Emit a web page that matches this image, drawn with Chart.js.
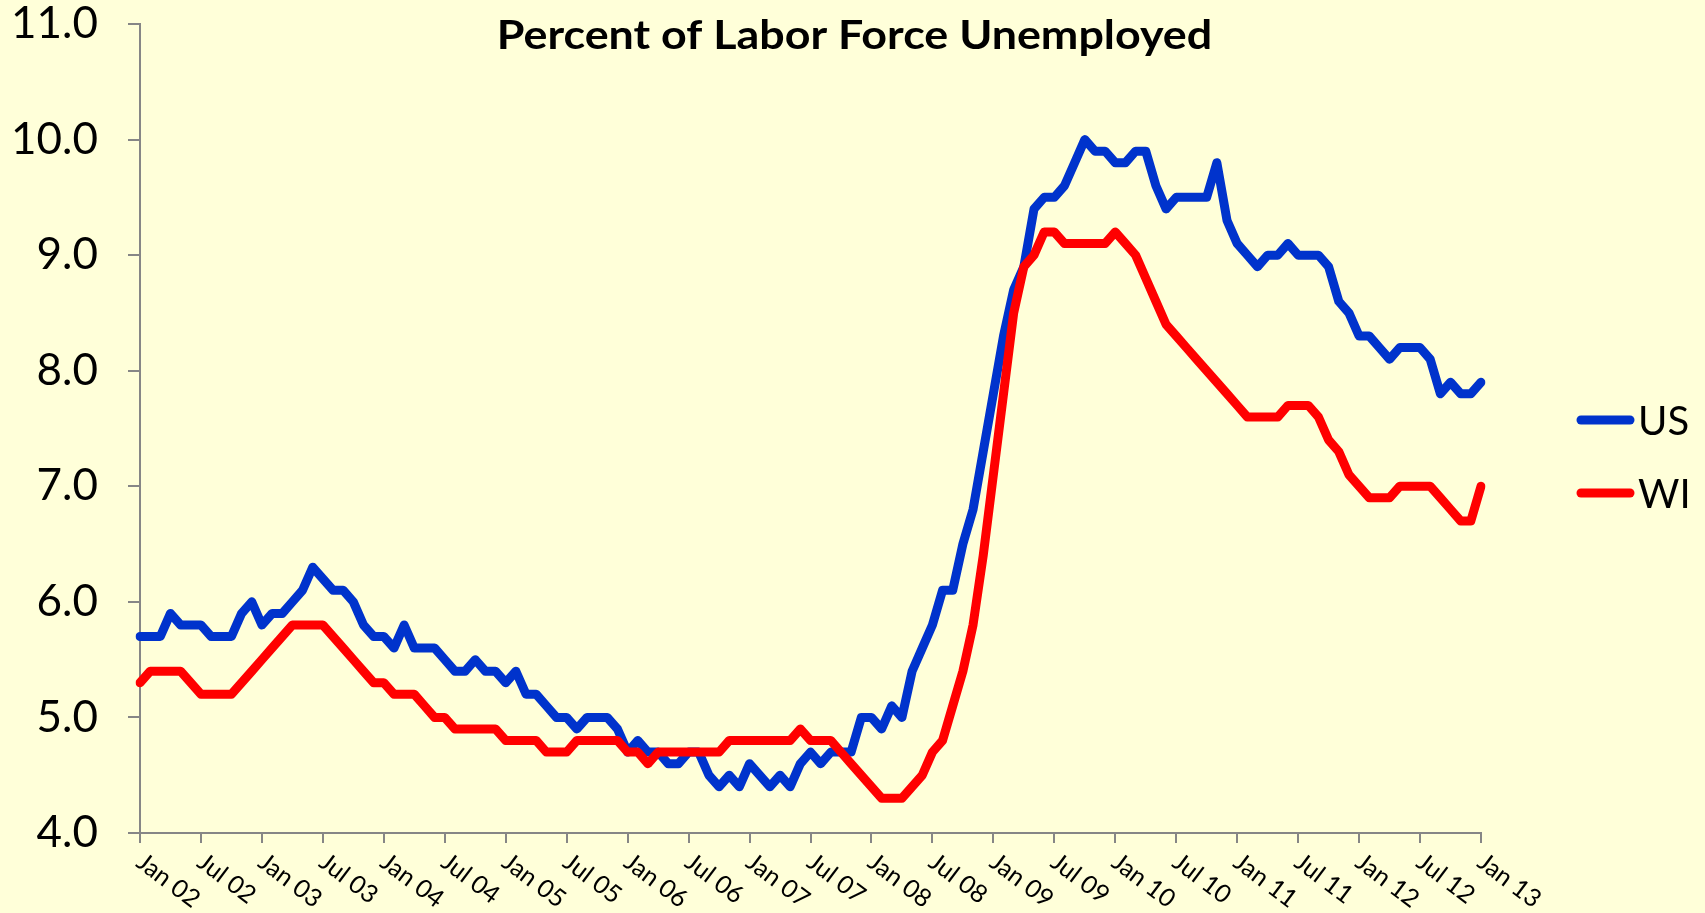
<!DOCTYPE html>
<html>
<head>
<meta charset="utf-8">
<title>Percent of Labor Force Unemployed</title>
<script src="https://cdn.jsdelivr.net/npm/chart.js@4.4.1/dist/chart.umd.min.js"></script>
<style>
    html, body { margin: 0; padding: 0; background: #FFFFD9; }
    #wrap { width: 1705px; height: 913px; }
</style>
</head>
<body>
<div id="wrap"><canvas id="myChart" width="1705" height="913"></canvas></div>
<script>
// monthly data, Jan 2002 .. Jan 2013 (seasonally adjusted unemployment rate)
var years = ["02", "03", "04", "05", "06", "07", "08", "09", "10", "11", "12", "13"];
var monthNames = ["Jan", "Feb", "Mar", "Apr", "May", "Jun", "Jul", "Aug", "Sep", "Oct", "Nov", "Dec"];

// labels actually shown under the x axis, one every 6 months
var tickLabels = ["Jan 02", "Jul 02", "Jan 03", "Jul 03", "Jan 04", "Jul 04", "Jan 05", "Jul 05",
    "Jan 06", "Jul 06", "Jan 07", "Jul 07", "Jan 08", "Jul 08", "Jan 09", "Jul 09",
    "Jan 10", "Jul 10", "Jan 11", "Jul 11", "Jan 12", "Jul 12", "Jan 13"];

var usRate = [
    5.7, 5.7, 5.7, 5.9, 5.8, 5.8, 5.8, 5.7, 5.7, 5.7, 5.9, 6.0,   // 2002
    5.8, 5.9, 5.9, 6.0, 6.1, 6.3, 6.2, 6.1, 6.1, 6.0, 5.8, 5.7,   // 2003
    5.7, 5.6, 5.8, 5.6, 5.6, 5.6, 5.5, 5.4, 5.4, 5.5, 5.4, 5.4,   // 2004
    5.3, 5.4, 5.2, 5.2, 5.1, 5.0, 5.0, 4.9, 5.0, 5.0, 5.0, 4.9,   // 2005
    4.7, 4.8, 4.7, 4.7, 4.6, 4.6, 4.7, 4.7, 4.5, 4.4, 4.5, 4.4,   // 2006
    4.6, 4.5, 4.4, 4.5, 4.4, 4.6, 4.7, 4.6, 4.7, 4.7, 4.7, 5.0,   // 2007
    5.0, 4.9, 5.1, 5.0, 5.4, 5.6, 5.8, 6.1, 6.1, 6.5, 6.8, 7.3,   // 2008
    7.8, 8.3, 8.7, 8.9, 9.4, 9.5, 9.5, 9.6, 9.8, 10.0, 9.9, 9.9,  // 2009
    9.8, 9.8, 9.9, 9.9, 9.6, 9.4, 9.5, 9.5, 9.5, 9.5, 9.8, 9.3,   // 2010
    9.1, 9.0, 8.9, 9.0, 9.0, 9.1, 9.0, 9.0, 9.0, 8.9, 8.6, 8.5,   // 2011
    8.3, 8.3, 8.2, 8.1, 8.2, 8.2, 8.2, 8.1, 7.8, 7.9, 7.8, 7.8,   // 2012
    7.9                                                           // 2013
];

var wiRate = [
    5.3, 5.4, 5.4, 5.4, 5.4, 5.3, 5.2, 5.2, 5.2, 5.2, 5.3, 5.4,   // 2002
    5.5, 5.6, 5.7, 5.8, 5.8, 5.8, 5.8, 5.7, 5.6, 5.5, 5.4, 5.3,   // 2003
    5.3, 5.2, 5.2, 5.2, 5.1, 5.0, 5.0, 4.9, 4.9, 4.9, 4.9, 4.9,   // 2004
    4.8, 4.8, 4.8, 4.8, 4.7, 4.7, 4.7, 4.8, 4.8, 4.8, 4.8, 4.8,   // 2005
    4.7, 4.7, 4.6, 4.7, 4.7, 4.7, 4.7, 4.7, 4.7, 4.7, 4.8, 4.8,   // 2006
    4.8, 4.8, 4.8, 4.8, 4.8, 4.9, 4.8, 4.8, 4.8, 4.7, 4.6, 4.5,   // 2007
    4.4, 4.3, 4.3, 4.3, 4.4, 4.5, 4.7, 4.8, 5.1, 5.4, 5.8, 6.4,   // 2008
    7.1, 7.8, 8.5, 8.9, 9.0, 9.2, 9.2, 9.1, 9.1, 9.1, 9.1, 9.1,   // 2009
    9.2, 9.1, 9.0, 8.8, 8.6, 8.4, 8.3, 8.2, 8.1, 8.0, 7.9, 7.8,   // 2010
    7.7, 7.6, 7.6, 7.6, 7.6, 7.7, 7.7, 7.7, 7.6, 7.4, 7.3, 7.1,   // 2011
    7.0, 6.9, 6.9, 6.9, 7.0, 7.0, 7.0, 7.0, 6.9, 6.8, 6.7, 6.7,   // 2012
    7.0                                                           // 2013
];

var seriesNames = ["US", "WI"];
var seriesColors = ["#0033CC", "#FF0000"];
var chartTitle = "Percent of Labor Force Unemployed";

// category per month: "Jan 02", "Feb 02", ...
var categories = [];
for (var i = 0; i < usRate.length; i++) {
    categories.push(monthNames[i % 12] + " " + years[Math.floor(i / 12)]);
}

var bgColor = "#FFFFD9";
var axisColor = "#868686";
var fontFamily = "Lato, 'Open Sans', sans-serif";

// background, title inside the plot, slanted x labels, legend
var decorations = {
    id: "decorations",
    beforeDraw: function(chart) {
        var ctx = chart.ctx;
        ctx.save();
        ctx.fillStyle = bgColor;
        ctx.fillRect(0, 0, chart.width, chart.height);
        ctx.restore();
    },
    afterDraw: function(chart) {
        var ctx = chart.ctx;
        var xs = chart.scales.x;
        var area = chart.chartArea;

        // title - the original font is a bit wider, so stretch it slightly
        ctx.save();
        ctx.fillStyle = "#000000";
        ctx.font = "bold 40px " + fontFamily;
        ctx.textAlign = "center";
        ctx.textBaseline = "middle";
        ctx.translate(chart.width / 2 + 2, 36);
        ctx.scale(1.12, 1);
        ctx.fillText(chartTitle, 0, 0);
        ctx.restore();

        // x labels, slanted down to the right like the original
        ctx.save();
        ctx.fillStyle = "#000000";
        ctx.font = "25px " + fontFamily;
        ctx.textAlign = "left";
        ctx.textBaseline = "top";
        for (var k = 0; k < tickLabels.length; k++) {
            var px = xs.getPixelForValue(k * 6);
            ctx.save();
            ctx.translate(px + 7, area.bottom + 16);
            ctx.rotate(37 * Math.PI / 180);
            ctx.fillText(tickLabels[k], 0, 0);
            ctx.restore();
        }
        ctx.restore();

        // legend on the right
        ctx.save();
        ctx.font = "40px " + fontFamily;
        ctx.textAlign = "left";
        ctx.textBaseline = "middle";
        ctx.lineCap = "round";
        ctx.lineWidth = 9;
        var rows = [area.top + 396, area.top + 469];
        for (var s = 0; s < seriesNames.length; s++) {
            var ly = rows[s];
            ctx.strokeStyle = seriesColors[s];
            ctx.beginPath();
            ctx.moveTo(area.right + 100, ly);
            ctx.lineTo(area.right + 149, ly);
            ctx.stroke();
            ctx.fillStyle = "#000000";
            ctx.fillText(seriesNames[s], area.right + 157, ly + 2);
        }
        ctx.restore();
    }
};

var ctx = document.getElementById("myChart");
Chart.defaults.font.family = fontFamily;
Chart.defaults.color = "#000000";

var myChart = new Chart(ctx, {
    type: "line",
    data: {
        labels: categories,
        datasets: [
            {
                label: seriesNames[0],
                data: usRate,
                borderColor: seriesColors[0],
                backgroundColor: seriesColors[0],
                borderWidth: 9,
                borderCapStyle: "round",
                borderJoinStyle: "round",
                pointRadius: 0,
                tension: 0,
                order: 1
            },
            {
                label: seriesNames[1],
                data: wiRate,
                borderColor: seriesColors[1],
                backgroundColor: seriesColors[1],
                borderWidth: 9,
                borderCapStyle: "round",
                borderJoinStyle: "round",
                pointRadius: 0,
                tension: 0,
                order: 0   // red drawn over blue
            }
        ]
    },
    options: {
        responsive: false,
        animation: false,
        events: [],
        layout: {
            padding: { top: 24, right: 224, bottom: 0, left: 0 }
        },
        scales: {
            x: {
                type: "category",
                offset: false,
                afterFit: function(scale) {
                    scale.height = 80;
                    scale.paddingLeft = 0;
                    scale.paddingRight = 0;
                },
                border: { display: true, color: axisColor, width: 2 },
                grid: {
                    drawOnChartArea: false,
                    drawTicks: true,
                    tickLength: 10,
                    lineWidth: 2,
                    color: function(c) { return c.index % 6 === 0 ? axisColor : "rgba(0,0,0,0)"; }
                },
                ticks: {
                    autoSkip: false,
                    maxRotation: 0,
                    minRotation: 0,
                    callback: function() { return ""; }
                }
            },
            y: {
                min: 4,
                max: 11,
                afterFit: function(scale) {
                    // fixed axis width; don't let the label padding push the plot down
                    scale.width = 140;
                    scale.paddingTop = 0;
                    scale.paddingBottom = 0;
                },
                border: { display: true, color: axisColor, width: 2 },
                grid: {
                    drawOnChartArea: false,
                    drawTicks: true,
                    tickLength: 12,
                    lineWidth: 2,
                    color: axisColor
                },
                ticks: {
                    stepSize: 1,
                    padding: 30,
                    color: "#000000",
                    font: { size: 44, lineHeight: 1.0 },
                    callback: function(v) { return v.toFixed(1); }
                }
            }
        },
        plugins: {
            legend: { display: false },
            tooltip: { enabled: false },
            title: { display: false }
        }
    },
    plugins: [decorations]
});
</script>
</body>
</html>
